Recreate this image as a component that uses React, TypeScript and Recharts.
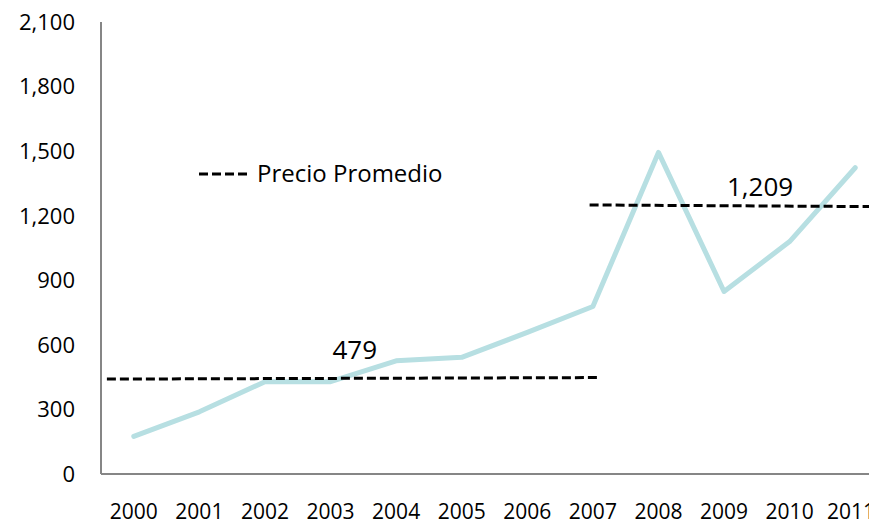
import React from 'react';
import { LineChart, Line, XAxis, YAxis, ReferenceLine, ReferenceDot } from 'recharts';

const years = [2000, 2001, 2002, 2003, 2004, 2005, 2006, 2007, 2008, 2009, 2010, 2011];
const prices = [175, 289, 429, 429, 526, 542, 658, 778, 1494, 848, 1080, 1423];
const yTicks = [0, 300, 600, 900, 1200, 1500, 1800, 2100];

// promedio por periodo: 2000-2007 y 2008-2011
const avgFrom = [1999.59, 2006.95];
const avgTo = [2007.12, 2011.5];
const avgStart = [441, 1250];
const avgEnd = [448, 1242];
const avgLabels = ['479', '1,209'];
const avgLabelX = [2003.37, 2009.55];
const avgLabelY = [576, 1335];

const FONT = '"Open Sans", sans-serif';
const VIEW_RIGHT = 875;

const data = years.map((year, i) => ({ year, price: prices[i] }));

// el último año queda pegado al borde derecho
const YearTick = (props: any) => {
  const { x, y, payload, index } = props;
  const last = index === years.length - 1;
  return (
    <text
      x={last ? VIEW_RIGHT : x}
      y={y}
      dy="0.71em"
      textAnchor={last ? 'end' : 'middle'}
      fontFamily={FONT}
      fontSize={21}
      fill="#000"
    >
      {payload.value}
    </text>
  );
};

// leyenda dibujada encima del gráfico
const AvgLegend = () => (
  <svg
    width={280}
    height={34}
    style={{ position: 'absolute', left: 199, top: 156, overflow: 'visible' }}
  >
    <line x1={0} y1={18} x2={48} y2={18} stroke="#000" strokeWidth={3} strokeDasharray="9 4" />
    <text x={58} y={26} fontFamily={FONT} fontSize={24} fill="#000">
      Precio Promedio
    </text>
  </svg>
);

const App: React.FC = () => {
  return (
    <div
      style={{
        position: 'relative',
        margin: -8,
        width: 877,
        height: 528,
        overflow: 'hidden',
        background: '#fff',
      }}
    >
      <LineChart
        width={890}
        height={528}
        data={data}
        margin={{ top: 22, right: 2, left: 0, bottom: 4 }}
      >
        <XAxis
          dataKey="year"
          type="number"
          domain={[1999.5, 2011.5]}
          ticks={years}
          interval={0}
          height={50}
          tickLine={false}
          tickMargin={24}
          stroke="#868686"
          strokeWidth={2}
          tick={<YearTick />}
        />
        <YAxis
          type="number"
          domain={[0, 2100]}
          ticks={yTicks}
          width={101}
          tickLine={false}
          tickMargin={20}
          stroke="#868686"
          strokeWidth={2}
          tickFormatter={(v: number) => v.toLocaleString('en-US')}
          tick={{ fill: '#000', fontSize: 22, fontFamily: FONT }}
        />
        <Line
          dataKey="price"
          type="linear"
          stroke="#b7dfe2"
          strokeWidth={5}
          strokeLinecap="round"
          strokeLinejoin="round"
          dot={false}
          activeDot={false}
          isAnimationActive={false}
        />
        {avgFrom.map((from, i) => (
          <ReferenceLine
            key={`avg-${i}`}
            segment={[
              { x: from, y: avgStart[i] },
              { x: avgTo[i], y: avgEnd[i] },
            ]}
            stroke="#000"
            strokeWidth={3}
            strokeDasharray="9 4"
            ifOverflow="visible"
          />
        ))}
        {avgLabels.map((label, i) => (
          <ReferenceDot
            key={`lbl-${i}`}
            x={avgLabelX[i]}
            y={avgLabelY[i]}
            r={0}
            fill="none"
            stroke="none"
            ifOverflow="visible"
            label={{ value: label, position: 'center', fontSize: 26, fill: '#000', fontFamily: FONT }}
          />
        ))}
      </LineChart>
      <AvgLegend />
    </div>
  );
};

export default App;
